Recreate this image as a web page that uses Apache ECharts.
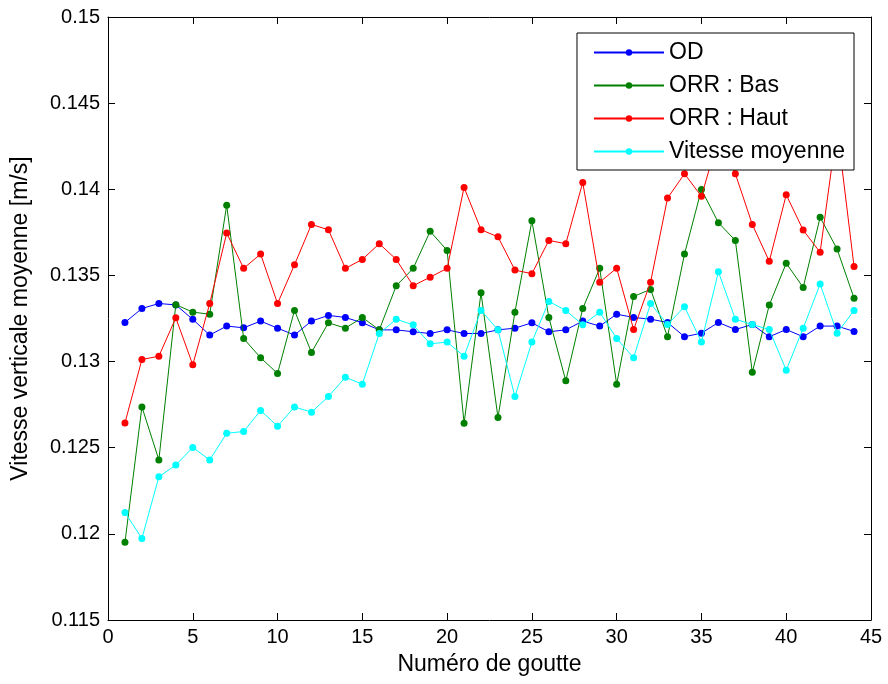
<!DOCTYPE html>
<html><head><meta charset="utf-8">
<script src="https://cdn.jsdelivr.net/npm/echarts@6/dist/echarts.min.js"></script>
<style>html,body{margin:0;padding:0;background:#fff}#c{width:888px;height:684px}</style>
</head><body><div id="c"></div>
<script>
const gouttes = [1,2,3,4,5,6,7,8,9,10,11,12,13,14,15,16,17,18,19,20,21,22,23,24,25,26,27,28,29,30,31,32,33,34,35,36,37,38,39,40,41,42,43,44];
const seriesNames = ['OD','ORR : Bas','ORR : Haut','Vitesse moyenne'];
const od = [0.13227,0.13308,0.13337,0.13329,0.13245,0.13154,0.13206,0.13196,0.13235,0.13194,0.13154,0.13235,0.13268,0.13256,0.13225,0.13184,0.13184,0.13173,0.13163,0.13184,0.13163,0.13163,0.13184,0.13194,0.13225,0.13173,0.13184,0.13235,0.13206,0.13275,0.13256,0.13246,0.13227,0.13144,0.13165,0.13227,0.13186,0.13215,0.13144,0.13186,0.13144,0.13206,0.13206,0.13175];
const orrBas = [0.11951,0.12737,0.12429,0.1333,0.13287,0.13275,0.13908,0.13134,0.13022,0.12931,0.13297,0.13053,0.13225,0.13194,0.13256,0.13184,0.1344,0.13541,0.13756,0.13645,0.12642,0.13399,0.12675,0.13287,0.13817,0.13256,0.12888,0.13308,0.13541,0.12869,0.13378,0.13419,0.13144,0.13624,0.13999,0.13806,0.13703,0.12938,0.13328,0.13571,0.1343,0.13837,0.13653,0.13368];
const orrHaut = [0.12644,0.13012,0.13031,0.13254,0.12981,0.13337,0.13746,0.13541,0.13624,0.13337,0.13562,0.13796,0.13765,0.13541,0.13593,0.13684,0.13593,0.1344,0.1349,0.13541,0.14011,0.13765,0.13724,0.13531,0.1351,0.13703,0.13684,0.1404,0.13461,0.13542,0.13186,0.13461,0.13949,0.1409,0.13959,0.1430,0.1409,0.13796,0.13582,0.13968,0.13763,0.13634,0.1436,0.13552];
const vitesse = [0.12124,0.11973,0.12331,0.124,0.12501,0.12429,0.12584,0.12594,0.12716,0.12625,0.12737,0.12706,0.12797,0.12909,0.12869,0.13163,0.13246,0.13213,0.13103,0.13113,0.13031,0.13297,0.13184,0.12797,0.13113,0.13349,0.13297,0.13213,0.13287,0.13134,0.13022,0.13337,0.13215,0.13318,0.13114,0.13521,0.13246,0.13215,0.13186,0.1295,0.13194,0.1345,0.13165,0.13297];
const colors = ['#0000ff','#008000','#ff0000','#00ffff'];
const allValues = [od, orrBas, orrHaut, vitesse];

const font = 'Liberation Sans, Arial, sans-serif';
const chart = echarts.init(document.getElementById('c'), null, {renderer:'canvas'});
const axisBase = {
  axisLine:{show:true,onZero:false,lineStyle:{color:'#000',width:1}},
  axisTick:{show:true,inside:true,length:7,lineStyle:{color:'#000'}},
  splitLine:{show:false}
};
chart.setOption({
  animation:false,
  backgroundColor:'#fff',
  grid:{left:108,right:17,top:17,bottom:64,containLabel:false},
  xAxis:[
    Object.assign({type:'value',min:0,max:45,interval:5,position:'bottom',
      name:'Numéro de goutte',nameLocation:'middle',nameGap:33,
      nameTextStyle:{color:'#000',fontSize:23,fontFamily:font},
      axisLabel:{color:'#000',fontSize:20,fontFamily:font,margin:7}}, axisBase),
    Object.assign({type:'value',min:0,max:45,interval:5,position:'top',axisLabel:{show:false}}, axisBase)
  ],
  yAxis:[
    Object.assign({type:'value',min:0.115,max:0.15,interval:0.005,position:'left',
      name:'Vitesse verticale moyenne [m/s]',nameLocation:'middle',nameGap:76,
      nameTextStyle:{color:'#000',fontSize:23,fontFamily:font},
      axisLabel:{color:'#000',fontSize:20,fontFamily:font,margin:8}}, axisBase),
    Object.assign({type:'value',min:0.115,max:0.15,interval:0.005,position:'right',axisLabel:{show:false}}, axisBase)
  ],
  legend:{
    show:true, orient:'vertical', right:34, top:33, z:20,
    backgroundColor:'#fff', borderColor:'#000', borderWidth:1,
    padding:[8,9,7,16], itemGap:10, itemWidth:70, itemHeight:8,
    textStyle:{color:'#000',fontSize:23,fontFamily:font},
    data:seriesNames
  },
  series: seriesNames.map((n,i)=>({
    name:n, type:'line', xAxisIndex:0, yAxisIndex:0,
    data: gouttes.map((g,k)=>[g, allValues[i][k]]),
    symbol:'circle', symbolSize:7, showSymbol:true,
    lineStyle:{color:colors[i],width:1},
    itemStyle:{color:colors[i]},
    emphasis:{disabled:true}, z:2+i
  }))
});
</script></body></html>
